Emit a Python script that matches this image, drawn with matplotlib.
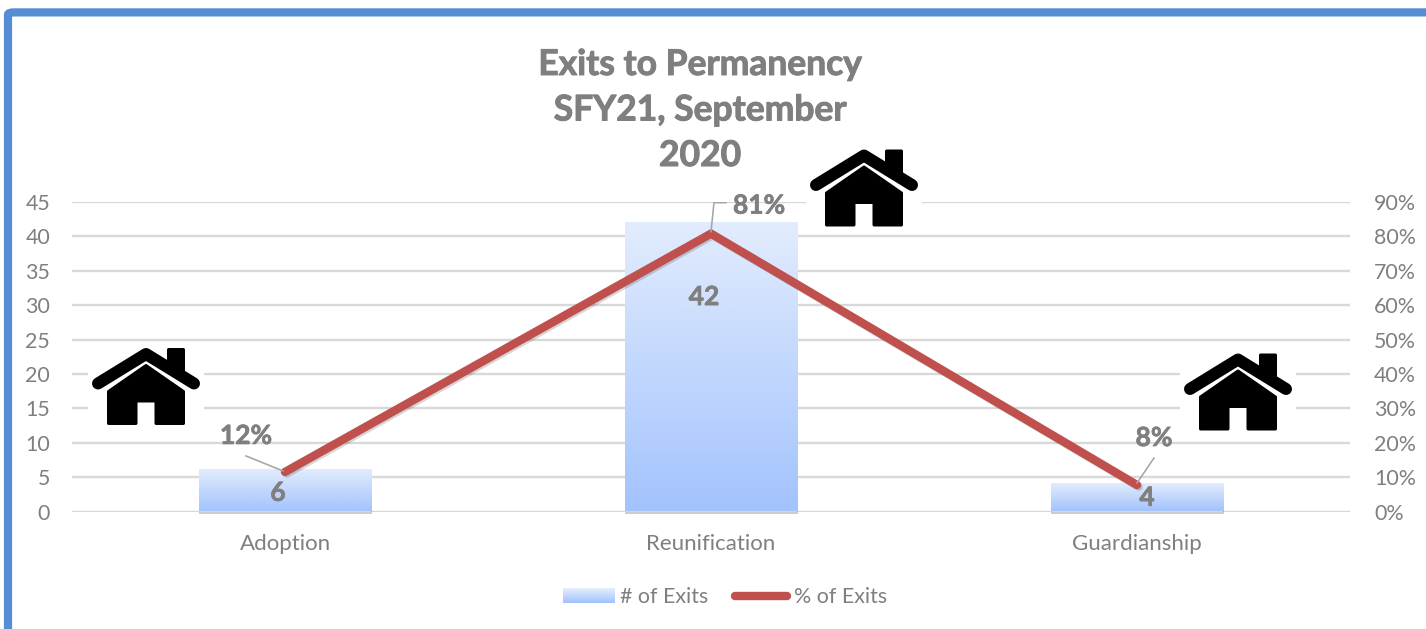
import numpy as np
import matplotlib
matplotlib.use("Agg")
import matplotlib.pyplot as plt
from matplotlib import patheffects as pe
from matplotlib.colors import LinearSegmentedColormap
from matplotlib.legend_handler import HandlerBase
from matplotlib.lines import Line2D
from matplotlib.patches import FancyBboxPatch, PathPatch, Patch, Rectangle
from matplotlib.path import Path
from matplotlib.transforms import Affine2D

categories = ["Adoption", "Reunification", "Guardianship"]
exits = [6, 42, 4]
pct_exits = [11.5, 80.8, 7.7]
pct_labels = ["12%", "81%", "8%"]
count_ticks = [0, 5, 10, 15, 20, 25, 30, 35, 40, 45]
pct_ticks = [0, 10, 20, 30, 40, 50, 60, 70, 80, 90]
title = "Exits to Permanency\nSFY21, September\n2020"

W, H = 1426, 629
GREY = "#7f7f7f"
FONT = "Lato"
plt.rcParams["font.family"] = [FONT, "DejaVu Sans"]


def px(v):
    return v * 72 / 100


fig = plt.figure(figsize=(W / 100, H / 100), dpi=100, facecolor="white")
L, R, T, B = 72, 1350, 202, 511.5
ax = fig.add_axes([L / W, 1 - B / H, (R - L) / W, (B - T) / H])
ax2 = ax.twinx()
ax.set_zorder(1)
ax2.set_zorder(2)
ax.patch.set_facecolor("white")
ax2.patch.set_visible(False)

# frame
fig.add_artist(FancyBboxPatch((8 / W, -0.2), 1.3, 1.2 - 12.4 / H,
                              boxstyle="round,pad=0,rounding_size=0.004",
                              transform=fig.transFigure, fc="white",
                              ec="#548dd4", lw=px(8.2), zorder=-5))

x = np.arange(len(categories))
bar_w = 0.406
ax.set_xlim(-0.5, 2.5)
ax.set_ylim(0, 45)
ax2.set_ylim(0, 90)
ax.set_yticks(count_ticks)
ax2.set_yticks(pct_ticks)
ax2.set_yticklabels([f"{v}%" for v in pct_ticks])
ax.set_xticks(x)
ax.set_xticklabels(categories)
ax.grid(axis="y", color="#d9d9d9", lw=px(2.4), zorder=0)
ax.set_axisbelow(True)
for a in (ax, ax2):
    for s in a.spines.values():
        s.set_visible(False)
ax.tick_params(axis="y", length=0, pad=px(22), labelsize=15.4, labelcolor=GREY)
ax2.tick_params(axis="y", length=0, pad=px(24), labelsize=15.4, labelcolor=GREY)
ax.tick_params(axis="x", length=0, pad=px(22), labelsize=16, labelcolor=GREY)

# gradient bars
cmap = LinearSegmentedColormap.from_list("bar", ["#e2ecfd", "#a3c3fd"])
grad = np.linspace(0, 1, 128).reshape(-1, 1)
bars = ax.bar(x, exits, width=bar_w, color="#c4d8fd", zorder=2, clip_on=False,
              path_effects=[pe.SimplePatchShadow(offset=(0.6, -1.8), alpha=0.2,
                                                 shadow_rgbFace="#000000"),
                            pe.Normal()])
for b in bars:
    ax.imshow(grad, extent=(b.get_x(), b.get_x() + b.get_width(), 0, b.get_height()),
              origin="upper", aspect="auto", cmap=cmap, zorder=2.5, interpolation="bilinear")
ax.set_xlim(-0.5, 2.5)
ax.set_ylim(0, 45)

# line
ax2.plot(x, pct_exits, color="#c0504d", lw=px(8.4), solid_capstyle="round",
         solid_joinstyle="miter", zorder=3,
         path_effects=[pe.SimpleLineShadow(offset=(1.2, -1.2), alpha=0.16, shadow_color="k"),
                       pe.Normal()])

bold_fx = [pe.withStroke(linewidth=0.5, foreground=GREY)]

# leader lines and data labels, offsets in pixels from the marks
leaders = [[(-2, 1), (-39, 16)], [(0, 2), (3, 31), (15, 31)], [(0, 2), (17, 27)]]
pct_offsets = [(-39, 36), (48, 28), (17, 47)]
count_offsets = [(-7, -2), (-7, 70), (10, 0)]
for i in range(3):
    base = ax2.transData.transform((x[i], pct_exits[i]))
    tr = Affine2D().translate(*base)
    xs, ys = zip(*leaders[i])
    ax2.add_line(Line2D(xs, ys, transform=tr, color="#a6a6a6", lw=px(1.6), zorder=4))
    ax2.annotate(pct_labels[i], xy=(x[i], pct_exits[i]),
                 xytext=(px(pct_offsets[i][0]), px(pct_offsets[i][1])),
                 textcoords="offset points", ha="center", va="center",
                 fontsize=19, fontweight="bold", color=GREY, zorder=5, path_effects=bold_fx)
    ax2.annotate(str(exits[i]), xy=(x[i], exits[i] / 2), xycoords=ax.transData,
                 xytext=(px(count_offsets[i][0]), px(count_offsets[i][1])),
                 textcoords="offset points", ha="center", va="center",
                 fontsize=19, fontweight="bold", color=GREY, zorder=5, path_effects=bold_fx)

# title
fig.text(700 / W, 1 - 110.5 / H, title, ha="center", va="center", fontsize=25.5,
         fontweight="bold", color=GREY, linespacing=1.52, zorder=6,
         path_effects=[pe.withStroke(linewidth=0.7, foreground=GREY)])


# legend
class GradientHandler(HandlerBase):
    def create_artists(self, legend, orig, xd, yd, width, height, fontsize, trans):
        n = 24
        top, bottom = -yd + height / 2 + px(7), -yd + height / 2 - px(7)
        hs = (top - bottom) / n
        return [Rectangle((-xd, bottom + j * hs), width, hs * 1.15,
                          fc=cmap(1 - j / (n - 1)), ec="none", transform=trans)
                for j in range(n)]


class WideLineHandler(HandlerBase):
    def create_artists(self, legend, orig, xd, yd, width, height, fontsize, trans):
        y = -yd + height / 2
        return [Line2D([-xd - px(2), -xd + width + px(-2)], [y, y], color=orig.get_color(),
                       lw=orig.get_linewidth(), solid_capstyle="round", transform=trans)]


h_bar = Patch(label="# of Exits")
h_line = Line2D([], [], color="#c0504d", lw=px(8.4), label="% of Exits")
fs = 15.4
leg = fig.legend(handles=[h_bar, h_line], loc="center",
                 bbox_to_anchor=(725 / W, 1 - 597 / H), bbox_transform=fig.transFigure,
                 ncol=2, frameon=False, fontsize=fs, labelcolor=GREY,
                 handlelength=px(52) / fs, handletextpad=px(5) / fs,
                 columnspacing=px(28) / fs, borderpad=0,
                 handler_map={h_bar: GradientHandler(), h_line: WideLineHandler()})
leg.set_zorder(6)


# house icons: shape given in pixels around the roof apex
def house(cx, apex_y):
    tr = Affine2D().scale(1, -1).translate(cx, H - apex_y)
    fig.add_artist(Rectangle((cx - 58, H - apex_y - 80), 116, 84, transform=Affine2D(),
                             fc="white", ec="none", zorder=3))
    roof = Path([(-48, 36), (0, 6.5), (48, 36)])
    fig.add_artist(PathPatch(roof, transform=tr, fc="none", ec="black", lw=px(12),
                             capstyle="round", joinstyle="round", zorder=4))
    body = Path([(-37.5, 44), (0, 18), (37.5, 44), (37.5, 76), (10, 76), (10, 53.5), (-10, 53.5),
                 (-10, 76), (-37.5, 76), (-37.5, 44)], closed=True)
    fig.add_artist(PathPatch(body, transform=tr, fc="black", ec="black", lw=px(3),
                             joinstyle="round", zorder=4))
    chim = Path([(22.5, 2), (37.5, 2), (37.5, 30), (22.5, 18), (22.5, 2)], closed=True)
    fig.add_artist(PathPatch(chim, transform=tr, fc="black", ec="black", lw=px(3),
                             joinstyle="round", zorder=4))


for cx, ay in [(146, 347.5), (864, 149), (1238, 353)]:
    house(cx, ay)

fig.savefig("out.png", dpi=100, facecolor="white")
